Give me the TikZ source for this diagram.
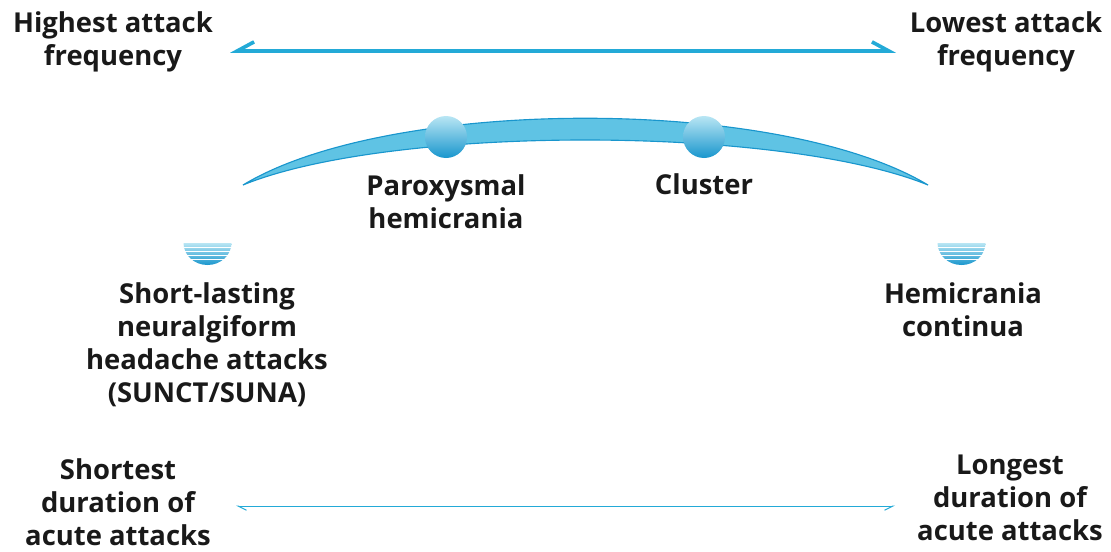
\documentclass[tikz,border=0pt]{standalone}
\usepackage{fontspec}
\setmainfont{Open Sans}
\usetikzlibrary{arrows.meta}

\definecolor{cyanline}{RGB}{35,170,215}
\definecolor{cyandark}{RGB}{25,150,205}
\definecolor{cyanlight}{RGB}{95,195,228}
\definecolor{cyanpale}{RGB}{185,230,244}
\definecolor{inkblack}{RGB}{25,25,25}

\tikzset{
	lbl/.style={align=center, inner sep=0pt, text=inkblack,
		font=\fontsize{19.5}{23.5}\selectfont\bfseries},
	freqarrow/.style={cyanline, line width=2.6pt,
		{Straight Barb[right, length=12pt, width=13pt]}-{Straight Barb[left, length=12pt, width=13pt]}},
	durarrow/.style={cyanline, line width=0.7pt,
		{Straight Barb[left, length=6pt, width=6pt]}-{Straight Barb[right, length=6pt, width=6pt]}},
}

\begin{document}
\begin{tikzpicture}[x=0.025cm, y=-0.025cm]
	\useasboundingbox (0,0) rectangle (1111,552);
	\def\halfdisc#1#2{%
		\shade[top color=cyanpale, bottom color=cyandark] (#1-24,#2) arc[start angle=180, end angle=360, x radius=24, y radius=-22] -- cycle;
		\foreach \s in {4,8,12,16} {\draw[white, line width=0.6pt] (#1-24,#2+\s) -- (#1+24,#2+\s);}}
	% frequency
	\node[lbl] (hf) at (113,42) {Highest attack\\frequency};
	\node[lbl] (lf) at (1006,42) {Lowest attack\\frequency};
	\coordinate (fL) at (230,51);
	\coordinate (fR) at (896,51);
	\draw[freqarrow] (fL) -- (fR);
	% arc with the two middle types
	\shade[left color=cyanlight, middle color=cyanpale, right color=cyanlight]
		(243,185) .. controls (390,96) and (780,96) .. (928,185)
		.. controls (780,125) and (390,125) .. (243,185) -- cycle;
	\draw[cyandark, line width=0.8pt]
		(243,185) .. controls (390,96) and (780,96) .. (928,185)
		.. controls (780,125) and (390,125) .. (243,185) -- cycle;
	\shade[top color=cyanpale, bottom color=cyandark] (446,137) circle (21);
	\shade[top color=cyanpale, bottom color=cyandark] (704,137) circle (21);
	\node[lbl] (ph) at (446,202) {Paroxysmal\\hemicrania};
	\node[lbl] (cl) at (704,184) {Cluster};
	% the two ends
	\halfdisc{207.5}{243}
	\halfdisc{961.5}{243}
	\node[lbl] (sn) at (207,345) {Short-lasting\\neuralgiform\\headache attacks\\(SUNCT/SUNA)};
	\node[lbl] (hc) at (963,310) {Hemicrania\\continua};
	% duration
	\node[lbl] (sd) at (118,502) {Shortest\\duration of\\acute attacks};
	\node[lbl] (ld) at (1010,498) {Longest\\duration of\\acute attacks};
	\coordinate (dL) at (236,506);
	\coordinate (dR) at (895,506);
	\draw[durarrow] (dL) -- (dR);
\end{tikzpicture}
\end{document}
